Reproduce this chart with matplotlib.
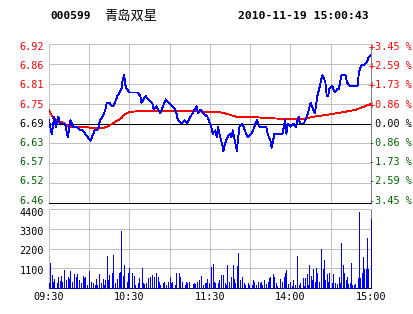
import matplotlib
matplotlib.use("Agg")
import matplotlib.pyplot as plt
from matplotlib.transforms import offset_copy

plt.rcParams['font.family'] = ['DejaVu Sans Mono', 'Noto Sans CJK SC']

# ---------------- data ----------------
stock_code = "000599"
stock_name = "青岛双星"
timestamp = "2010-11-19 15:00:43"
prev_close = 6.69
pct_max = 3.45

price_labels = ['6.46', '6.52', '6.57', '6.63', '6.69', '6.75', '6.81', '6.86', '6.92']
pct_labels = ['-3.45 %', '-2.59 %', '-1.73 %', '-0.86 %', ' 0.00 %',
              '+0.86 %', '+1.73 %', '+2.59 %', '+3.45 %']
vol_ticks = [1100, 2200, 3300, 4400]
vol_tick_labels = ['1100', '2200', '3300', '4400']
time_ticks = [0, 30, 60, 90, 120, 150, 180, 210, 240]
time_labels = ['09:30', '', '10:30', '', '11:30', '', '14:00', '', '15:00']

# price line (minute index from 09:30, price)
price_min = [0, 2, 4, 5, 6, 7, 8, 10, 12, 13, 14, 16, 17, 18, 21, 23, 25, 27, 29, 31,
             32, 33, 34, 36, 37, 38, 40, 42, 43, 45, 47, 48, 49, 51, 54, 55, 56, 57, 58, 60,
             63, 66, 68, 69, 72, 74, 77, 78, 80, 83, 85, 87, 89, 92, 94, 95, 96, 99, 101, 103,
             104, 107, 110, 111, 113, 115, 118, 120, 121, 122, 124, 125, 126, 127, 129, 130, 131, 133, 135, 136,
             137, 139, 140, 141, 142, 144, 145, 146, 148, 151, 154, 155, 156, 157, 162, 163, 165, 166, 167, 168,
             174, 175, 176, 177, 178, 180, 182, 184, 186, 187, 190, 192, 193, 195, 196, 198, 199, 200, 202, 203,
             204, 206, 207, 208, 209, 211, 212, 213, 215, 216, 217, 218, 221, 222, 224, 230, 231, 232, 233, 235,
             237, 238, 240]
price_val = [6.70, 6.66, 6.71, 6.68, 6.69, 6.71, 6.69, 6.69, 6.69, 6.67, 6.65, 6.70, 6.69, 6.68, 6.68, 6.67, 6.67, 6.66, 6.65, 6.64,
             6.65, 6.66, 6.67, 6.67, 6.68, 6.70, 6.71, 6.73, 6.75, 6.75, 6.74, 6.74, 6.75, 6.77, 6.79, 6.82, 6.83, 6.80, 6.79, 6.78,
             6.78, 6.78, 6.77, 6.75, 6.77, 6.76, 6.75, 6.73, 6.74, 6.72, 6.74, 6.76, 6.75, 6.74, 6.73, 6.72, 6.70, 6.69, 6.70, 6.69,
             6.70, 6.72, 6.74, 6.72, 6.73, 6.72, 6.71, 6.69, 6.68, 6.66, 6.67, 6.65, 6.68, 6.66, 6.63, 6.61, 6.63, 6.65, 6.66, 6.65,
             6.67, 6.63, 6.61, 6.65, 6.68, 6.69, 6.68, 6.67, 6.65, 6.66, 6.69, 6.70, 6.69, 6.68, 6.68, 6.66, 6.64, 6.62, 6.64, 6.66,
             6.66, 6.68, 6.70, 6.66, 6.69, 6.68, 6.69, 6.68, 6.71, 6.69, 6.69, 6.71, 6.72, 6.75, 6.74, 6.72, 6.74, 6.77, 6.80, 6.82,
             6.83, 6.81, 6.77, 6.77, 6.79, 6.80, 6.79, 6.78, 6.79, 6.79, 6.81, 6.83, 6.83, 6.81, 6.80, 6.80, 6.84, 6.85, 6.86, 6.86,
             6.87, 6.88, 6.89]

# average price line
avg_min = [0, 3, 7, 10, 13, 16, 28, 31, 40, 43, 48, 54, 57, 60, 66, 90, 110, 120, 126, 130,
           135, 140, 150, 163, 176, 191, 196, 207, 216, 228, 234, 240]
avg_val = [6.729, 6.706, 6.694, 6.694, 6.686, 6.680, 6.680, 6.677, 6.677, 6.680, 6.691, 6.706, 6.718, 6.723, 6.726, 6.727, 6.726, 6.723, 6.723, 6.721,
           6.715, 6.709, 6.709, 6.706, 6.703, 6.703, 6.709, 6.715, 6.721, 6.729, 6.738, 6.747]

# volume bars
vol_min = [0, 1, 2, 3, 4, 6, 7, 8, 9, 10, 11, 13, 14, 15, 16, 17, 19, 20, 21, 22,
           24, 25, 26, 27, 28, 30, 31, 33, 34, 35, 36, 37, 39, 40, 41, 42, 43, 44, 45, 47,
           48, 49, 51, 52, 53, 54, 55, 56, 58, 59, 60, 62, 63, 64, 66, 67, 69, 70, 71, 72,
           74, 75, 77, 78, 80, 81, 82, 83, 85, 86, 87, 89, 90, 91, 92, 94, 95, 97, 98, 99,
           101, 102, 103, 104, 107, 108, 109, 110, 112, 113, 115, 116, 117, 118, 119, 121, 122, 123, 124, 126,
           127, 128, 130, 131, 132, 133, 134, 136, 137, 138, 139, 140, 141, 142, 144, 145, 146, 148, 149, 151,
           152, 153, 154, 156, 157, 158, 159, 160, 162, 163, 164, 165, 167, 168, 169, 170, 172, 174, 175, 176,
           177, 178, 180, 181, 182, 183, 185, 186, 187, 189, 190, 191, 192, 193, 194, 195, 196, 197, 198, 199,
           200, 201, 203, 204, 205, 206, 207, 208, 209, 211, 212, 213, 215, 216, 217, 218, 219, 220, 221, 222,
           223, 224, 225, 226, 227, 228, 230, 231, 232, 233, 234, 235, 236, 237, 238, 240]
vol_val = [275, 1375, 715, 330, 495, 275, 605, 385, 660, 330, 990, 440, 605, 495, 935, 330, 770, 605, 770, 440,
           275, 660, 550, 605, 165, 935, 330, 275, 165, 495, 165, 770, 275, 495, 165, 440, 1760, 440, 715, 825,
           1815, 275, 495, 825, 880, 3200, 660, 1265, 330, 825, 1100, 825, 660, 165, 275, 550, 1100, 275, 220, 275,
           550, 605, 715, 605, 825, 605, 330, 165, 275, 330, 165, 330, 605, 275, 330, 165, 825, 825, 605, 330,
           165, 330, 275, 330, 220, 275, 220, 330, 440, 660, 165, 275, 275, 495, 275, 1155, 1320, 330, 275, 275,
           440, 715, 715, 275, 165, 1265, 330, 605, 1265, 495, 275, 1210, 1925, 440, 605, 275, 165, 275, 165, 165,
           440, 330, 165, 330, 275, 330, 165, 440, 220, 330, 550, 605, 770, 605, 275, 110, 495, 330, 605, 825,
           990, 220, 330, 110, 440, 165, 1760, 165, 275, 550, 110, 550, 770, 165, 1265, 660, 440, 1045, 330, 1100,
           825, 330, 2145, 1045, 1540, 440, 770, 330, 825, 275, 770, 275, 220, 605, 275, 2530, 1265, 825, 440, 605,
           220, 275, 1375, 165, 165, 220, 550, 4235, 550, 825, 1705, 1045, 1045, 2805, 1045, 3850]

# ---------------- styling ----------------
W, H = 414, 314
PX = 0.72
GRID = '#c0c0c0'
RED = '#ff0000'
GREEN = '#006400'
BLUE = '#0000ff'
FS = 7.3

fig = plt.figure(figsize=(W / 100, H / 100), dpi=100)
fig.patch.set_facecolor('white')


def fx(px):
    return px / W


def fy(py):
    return 1 - py / H


P_TOP, P_BOT = 44, 203
V_TOP, V_BOT = 209, 288
ax = fig.add_axes([fx(49), fy(P_BOT), (371 - 49) / W, (P_BOT - P_TOP) / H])
axv = fig.add_axes([fx(49), fy(V_BOT), (371 - 49) / W, (V_BOT - V_TOP) / H])

levels = [prev_close * (1 + pct_max / 100 * k / 4) for k in range(-4, 5)]

for a in (ax, axv):
    a.set_xlim(0, 240)
    a.set_xticks(time_ticks)
    a.grid(True, color=GRID, lw=PX)
    a.set_axisbelow(True)
    a.spines['top'].set_color(GRID)
    a.spines['left'].set_color(GRID)
    a.spines['right'].set_color('#808080')
    a.spines['bottom'].set_color('black')
    for s in a.spines.values():
        s.set_linewidth(PX)
    a.tick_params(length=0)

# price panel
ax.set_ylim(levels[0], levels[-1])
ax.set_yticks(levels)
ax.tick_params(labelleft=False, labelbottom=False)
ax.axhline(prev_close, color='black', lw=PX, zorder=2)
ax.plot(avg_min, avg_val, color=RED, lw=0.6, antialiased=False, zorder=3)
ax.plot(price_min, price_val, color=BLUE, lw=0.6, antialiased=False, zorder=4)

# labels are spread evenly but kept inside the panel (as in the reference)
n = len(levels)
lab_top, lab_bot = 47.0, 200.5
for k, (pl, cl) in enumerate(zip(price_labels, pct_labels)):
    col = RED if k > 4 else ('black' if k == 4 else GREEN)
    ypx = lab_bot - k * (lab_bot - lab_top) / (n - 1)
    yf = (P_BOT - ypx) / (P_BOT - P_TOP)
    ax.text(-0.016, yf, pl, transform=ax.transAxes, ha='right', va='center',
            color=col, fontsize=FS)
    ax.text(1.0, yf, cl, transform=offset_copy(ax.transAxes, fig=fig, x=-1.5, units='dots'),
            ha='left', va='center', color=col, fontsize=FS, clip_on=False)

# volume panel
axv.set_ylim(0, vol_ticks[-1])
axv.set_yticks(vol_ticks)
axv.tick_params(labelleft=False)
vlab_top, vlab_bot = 212.5, 270.5
for j, vl in enumerate(vol_tick_labels):
    ypx = vlab_bot - j * (vlab_bot - vlab_top) / (len(vol_tick_labels) - 1)
    yf = (V_BOT - ypx) / (V_BOT - V_TOP)
    axv.text(-0.016, yf, vl, transform=axv.transAxes, ha='right', va='center',
             color='black', fontsize=FS)
axv.set_xticklabels(time_labels, fontsize=FS)
axv.tick_params(axis='x', pad=3)
axv.vlines(vol_min, 0, vol_val, color=BLUE, lw=PX, antialiased=False, zorder=3, clip_on=False)

# header
fig.text(fx(50), fy(16), stock_code, fontsize=8, weight='bold', va='center')
fig.text(fx(104), fy(16), stock_name, fontsize=9.5, family='Noto Sans CJK SC', va='center')
fig.text(fx(238), fy(16), timestamp, fontsize=8.2, weight='bold', va='center')

fig.savefig('out.png', dpi=100, facecolor='white')
